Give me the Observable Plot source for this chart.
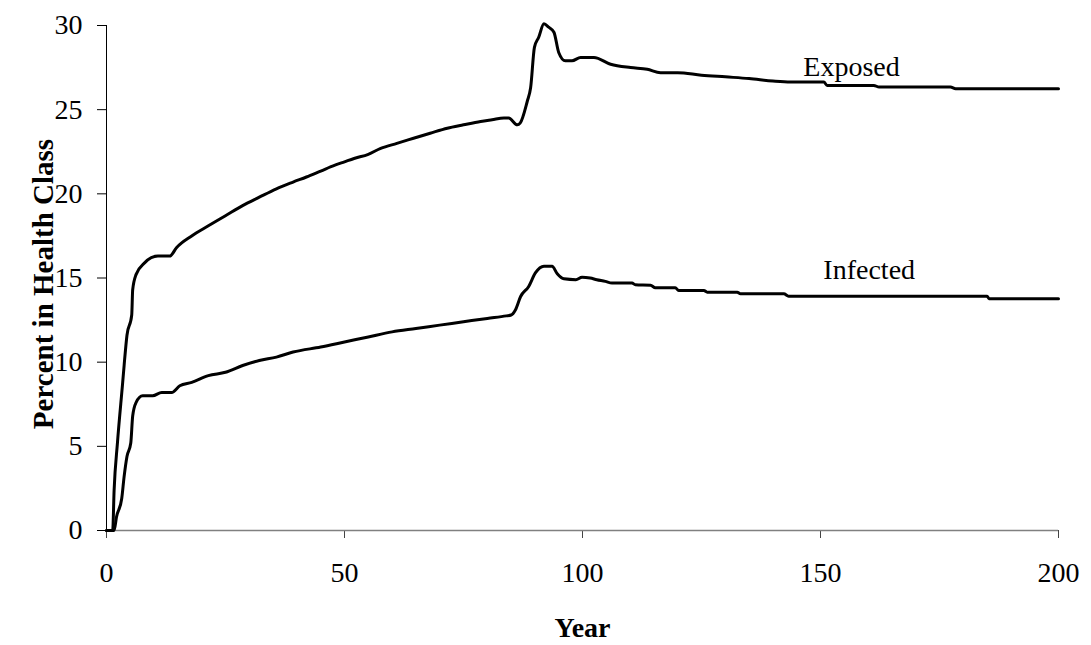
<!DOCTYPE html>
<html><head><meta charset="utf-8">
<script src="https://cdn.jsdelivr.net/npm/d3@7"></script>
<script src="https://cdn.jsdelivr.net/npm/@observablehq/plot@0.6"></script>
<style>body{margin:0;background:#fff}</style>
</head><body><div id="chart"></div>
<script>
const exposedYear = [0,1.3,1.6,2.3,3.4,3.7,4.3,5.3,5.5,6.2,8.0,10.8,13.3,14.7,17.9,21.4,25,28.6,32.1,35.7,39.2,42,45,48,50,52,55,57.6,61,64.5,68,71.6,75,78.6,81,83.5,84.5,86.3,86.9,88.4,89.1,89.9,90.8,91.9,92.9,94,95,96.4,97.8,99.6,102.4,105.9,110.1,113.6,116.4,120,125,130,135,140,143.7,150.7,151.4,161.2,162.3,177.3,178.4,200];
const exposedPct = [0,0,2.4,5.2,8.8,9.8,11.6,12.8,14.3,15.2,15.9,16.3,16.3,16.8,17.5,18.1,18.7,19.3,19.8,20.3,20.7,21.0,21.35,21.7,21.9,22.1,22.35,22.7,23.0,23.3,23.6,23.9,24.1,24.3,24.4,24.5,24.5,24.1,24.2,25.5,26.3,28.7,29.3,30.1,29.9,29.6,28.4,27.9,27.9,28.1,28.1,27.7,27.5,27.4,27.2,27.2,27.05,26.95,26.85,26.7,26.64,26.64,26.44,26.44,26.34,26.34,26.24,26.24];
const infectedYear = [0,1.6,2.1,3.2,3.7,4.3,5.1,5.5,6.2,7.6,9.7,11.6,13.7,15.4,17.9,21.4,25,28.6,32.1,35.7,39.2,45,50,55,60,65,70,75,80,84,85,85.9,87,88.7,90.1,91.9,93.6,94.7,96.1,98.6,99.9,101.6,103,104.8,106.2,110.4,111.1,114.3,115.3,119.5,120.2,125.5,126.2,132.5,133.2,142.3,143.3,185,185.4,200];
const infectedPct = [0,0,0.8,1.9,3.2,4.4,5.2,6.8,7.6,8.0,8.0,8.2,8.2,8.6,8.8,9.2,9.4,9.8,10.1,10.3,10.6,10.9,11.2,11.5,11.8,12.0,12.2,12.4,12.6,12.75,12.8,13.1,13.9,14.5,15.3,15.7,15.7,15.25,14.95,14.9,15.05,15.0,14.9,14.8,14.7,14.7,14.6,14.57,14.42,14.42,14.26,14.26,14.16,14.16,14.06,14.06,13.92,13.92,13.77,13.77];
const seriesNames = ["Exposed", "Infected"];
const labelYear = [146.4, 150.6];
const labelPct = [26.98, 14.97];
const xTicks = [0, 50, 100, 150, 200];
const yTicks = [0, 5, 10, 15, 20, 25, 30];
const xTitle = "Year";
const yTitle = "Percent in Health Class";

const exposed = exposedYear.map((x, i) => ({year: x, pct: exposedPct[i]}));
const infected = infectedYear.map((x, i) => ({year: x, pct: infectedPct[i]}));
const labels = seriesNames.map((n, i) => ({name: n, year: labelYear[i], pct: labelPct[i]}));
const font = '"Liberation Serif","Times New Roman",serif';

const chart = Plot.plot({
  width: 1091, height: 645,
  marginLeft: 106, marginRight: 33, marginTop: 25, marginBottom: 115,
  style: {fontFamily: font, fontSize: "28px", color: "#000", background: "#fff"},
  x: {domain: [0, 200]},
  y: {domain: [0, 30]},
  marks: [
    Plot.axisY({ticks: yTicks, tickSize: 9, tickPadding: 15, label: null, stroke: "#000", strokeOpacity: 1, fontSize: 28}),
    Plot.axisX({ticks: xTicks, tickSize: 8, tickPadding: 24, label: null, stroke: "#444", strokeOpacity: 1, fontSize: 28}),
    Plot.ruleX([0], {stroke: "#000", strokeWidth: 1}),
    Plot.ruleY([0], {stroke: "#808080", strokeWidth: 1.5}),
    Plot.line(exposed, {x: "year", y: "pct", stroke: "#000", strokeWidth: 3, curve: "monotone-x", clip: false}),
    Plot.line(infected, {x: "year", y: "pct", stroke: "#000", strokeWidth: 3, curve: "monotone-x"}),
    Plot.text(labels, {x: "year", y: "pct", text: "name", textAnchor: "start", lineAnchor: "bottom", fontSize: 28, fill: "#000"}),
    Plot.text([xTitle], {frameAnchor: "bottom", textAnchor: "middle", lineAnchor: "bottom", dy: 106, fontSize: 28, fontWeight: "bold", fill: "#000"}),
    Plot.text([yTitle], {frameAnchor: "left", textAnchor: "middle", rotate: -90, lineAnchor: "bottom", dx: -54, dy: 6, fontSize: 29, fontWeight: "bold", fill: "#000"})
  ]
});
document.getElementById("chart").appendChild(chart);
</script>
</body></html>
